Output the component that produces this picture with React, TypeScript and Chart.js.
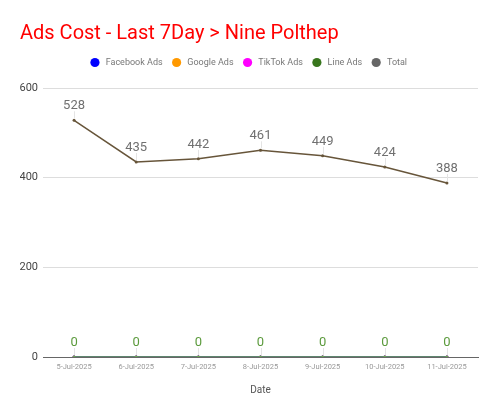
import React, { useEffect, useRef } from "react";
import { Chart, registerables } from "chart.js";

Chart.register(...registerables);

const categories = ["5-Jul-2025", "6-Jul-2025", "7-Jul-2025", "8-Jul-2025", "9-Jul-2025", "10-Jul-2025", "11-Jul-2025"];
const facebookAds = [0, 0, 0, 0, 0, 0, 0];
const googleAds = [0, 0, 0, 0, 0, 0, 0];
const tiktokAds = [0, 0, 0, 0, 0, 0, 0];
const lineAds = [0, 0, 0, 0, 0, 0, 0];
const total = [528, 435, 442, 461, 449, 424, 388];
const yTicks = [0, 200, 400, 600];

const FONT = "Roboto, 'Noto Sans', sans-serif";

const labelPlugin = {
  id: "pointLabels",
  afterDatasetsDraw(chart: any) {
    const ctx = chart.ctx;
    chart.data.datasets.forEach((ds: any, i: number) => {
      if (!ds.showLabels) return;
      const meta = chart.getDatasetMeta(i);
      meta.data.forEach((pt: any, j: number) => {
        const x = pt.x;
        const y = pt.y;
        ctx.save();
        ctx.strokeStyle = "#e4e4e4";
        ctx.lineWidth = 1;
        ctx.beginPath();
        ctx.moveTo(Math.round(x) + 0.5, y - 2);
        ctx.lineTo(Math.round(x) + 0.5, y - 9);
        ctx.stroke();
        ctx.fillStyle = ds.labelColor;
        ctx.font = `13px ${FONT}`;
        ctx.textAlign = "center";
        ctx.textBaseline = "alphabetic";
        ctx.fillText(String(ds.data[j]), x, y - 11);
        ctx.restore();
      });
    });
  },
};

const legendSpacer = {
  id: "legendSpacer",
  beforeInit(chart: any) {
    const legend = chart.legend;
    if (!legend) return;
    const orig = legend.fit;
    legend.fit = function () {
      orig.call(this);
      this.height += 11;
    };
  },
};

export default function App() {
  const ref = useRef<HTMLCanvasElement>(null);
  useEffect(() => {
    document.body.style.margin = "0";
    const mk = (label: string, data: number[], color: string, order: number, extra: any = {}) => ({
      label,
      data,
      order,
      borderColor: color,
      backgroundColor: color,
      pointBackgroundColor: color,
      borderWidth: 1.5,
      pointRadius: 1.5,
      pointBorderWidth: 0,
      tension: 0,
      ...extra,
    });
    const chart = new Chart(ref.current!, {
      type: "line",
      data: {
        labels: categories,
        datasets: [
          mk("Facebook Ads", facebookAds, "#0000ff", 3),
          mk("Google Ads", googleAds, "#ff9900", 3),
          mk("TikTok Ads", tiktokAds, "#ff00ff", 3),
          mk("Line Ads", lineAds, "#6aa84f", 1, { showLabels: true, labelColor: "#5b9a3c", legendColor: "#38761d" }),
          mk("Total", total, "#67553a", 0, { showLabels: true, labelColor: "#707070", legendColor: "#666666" }),
        ] as any,
      },
      options: {
        animation: false,
        responsive: false,
        maintainAspectRatio: false,
        layout: { padding: { left: 20, right: 22, top: 0, bottom: 15 } },
        plugins: {
          title: {
            display: true,
            text: "Ads Cost - Last 7Day > Nine Polthep",
            align: "start",
            color: "#ff0000",
            font: { family: FONT, size: 20, weight: "normal" },
            padding: { top: 22, bottom: 2 },
          },
          legend: {
            display: true,
            labels: {
              usePointStyle: true,
              pointStyle: "circle",
              boxWidth: 8,
              boxHeight: 6.5,
              color: "#777",
              font: { family: FONT, size: 9 },
              padding: 10,
              generateLabels: (c: any) =>
                c.data.datasets.map((ds: any, i: number) => ({
                  text: " " + ds.label,
                  fillStyle: ds.legendColor || ds.borderColor,
                  strokeStyle: ds.legendColor || ds.borderColor,
                  lineWidth: 0,
                  pointStyle: "circle",
                  datasetIndex: i,
                  fontColor: "#777",
                })),
            },
          },
          tooltip: { enabled: false },
        },
        scales: {
          x: {
            offset: true,
            grid: { display: false, drawTicks: false },
            border: { display: true, color: "#666", width: 1 },
            ticks: { color: "#999", font: { family: FONT, size: 7.5 }, maxRotation: 0, padding: 6 },
            title: { display: true, text: "Date", color: "#555", font: { family: FONT, size: 10 }, padding: { top: 6 } },
          },
          y: {
            min: 0,
            max: 600,
            afterBuildTicks: (axis: any) => {
              axis.ticks = yTicks.map((v) => ({ value: v }));
            },
            afterFit: (axis: any) => {
              axis.width = 23;
            },
            grid: {
              color: (c: any) => (c.tick && c.tick.value === 0 ? "rgba(0,0,0,0)" : "#dddddd"),
              drawTicks: false,
            },
            border: { display: false },
            ticks: { color: "#444", font: { family: FONT, size: 11 }, padding: 5 },
          },
        },
      } as any,
      plugins: [labelPlugin, legendSpacer],
    });
    return () => chart.destroy();
  }, []);
  return (
    <div style={{ position: "absolute", left: 0, top: 0, width: 500, height: 415 }}>
      <canvas ref={ref} width={500} height={415} style={{ width: 500, height: 415 }} />
    </div>
  );
}
